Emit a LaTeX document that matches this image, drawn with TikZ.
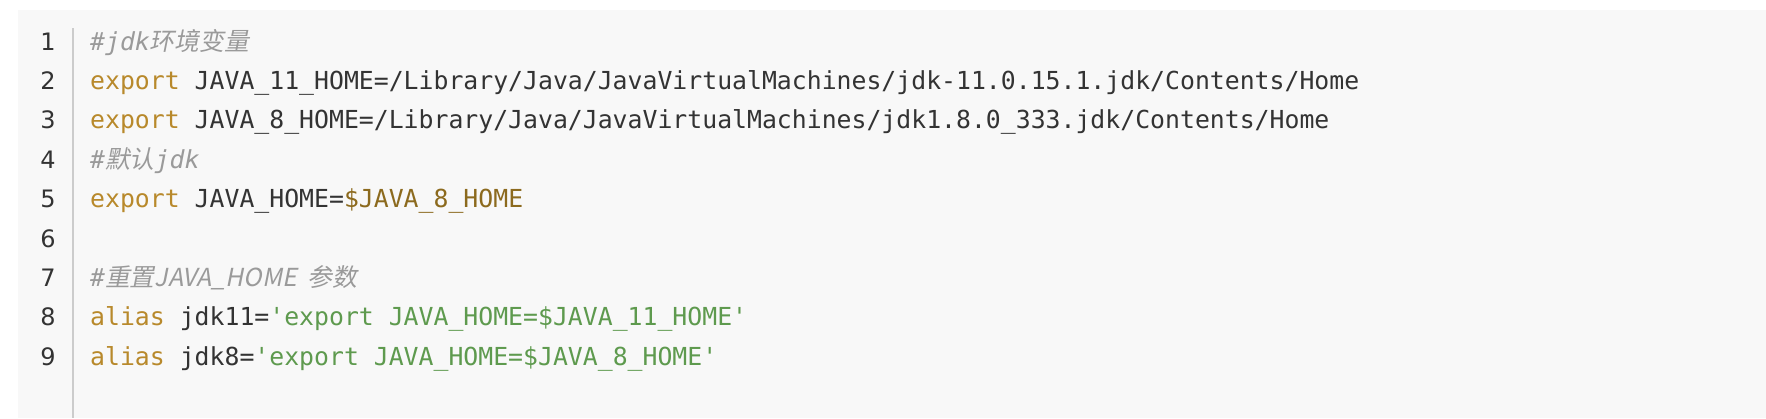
\documentclass[tikz,border=0pt]{standalone}
\usepackage{fontspec}
\setmonofont{DejaVu Sans Mono}
\setsansfont{DejaVu Sans}
\newfontfamily\cjk[FakeSlant=0.2]{Noto Sans CJK SC}
\definecolor{bgc}{HTML}{F8F8F8}
\definecolor{txt}{HTML}{333333}
\definecolor{kw}{HTML}{B8892B}
\definecolor{var}{HTML}{8C6A1E}
\definecolor{str}{HTML}{5E9A4E}
\definecolor{cmt}{HTML}{9A9A9A}
\definecolor{sep}{HTML}{CCCCCC}
\begin{document}
\begin{tikzpicture}[x=1pt,y=-1pt,
  code/.style={anchor=base west,inner sep=0pt,font=\fontsize{24.8}{28}\ttfamily,text=txt},
  num/.style={anchor=base,inner sep=0pt,font=\fontsize{24}{28}\sffamily,text=txt}]
\fill[bgc] (18,10) rectangle (1766,418);
\draw[sep,line width=1.5pt] (73,28) -- (73,418);
\foreach \i in {1,...,9}{\node[num] (n\i) at (48,{50+39.4*(\i-1)}) {\i};}
\node[code] (l1) at (90,50) {\textcolor{cmt}{\itshape\#jdk{\cjk 环境变量}}};
\node[code] (l2) at (90,89.4) {\textcolor{kw}{export} JAVA\_11\_HOME=/Library/Java/JavaVirtualMachines/jdk-11.0.15.1.jdk/Contents/Home};
\node[code] (l3) at (90,128.8) {\textcolor{kw}{export} JAVA\_8\_HOME=/Library/Java/JavaVirtualMachines/jdk1.8.0\_333.jdk/Contents/Home};
\node[code] (l4) at (90,168.2) {\textcolor{cmt}{\itshape\#{\cjk 默认}jdk}};
\node[code] (l5) at (90,207.6) {\textcolor{kw}{export} JAVA\_HOME=\textcolor{var}{\$JAVA\_8\_HOME}};
\node[code] (l7) at (90,286.4) {\textcolor{cmt}{\itshape\#{\cjk 重置JAVA\_HOME\ \ 参数}}};
\node[code] (l8) at (90,325.8) {\textcolor{kw}{alias} jdk11=\textcolor{str}{'export JAVA\_HOME=\$JAVA\_11\_HOME'}};
\node[code] (l9) at (90,365.2) {\textcolor{kw}{alias} jdk8=\textcolor{str}{'export JAVA\_HOME=\$JAVA\_8\_HOME'}};
\pgfresetboundingbox
\useasboundingbox (0,0) rectangle (1766,418);
\end{tikzpicture}
\end{document}
